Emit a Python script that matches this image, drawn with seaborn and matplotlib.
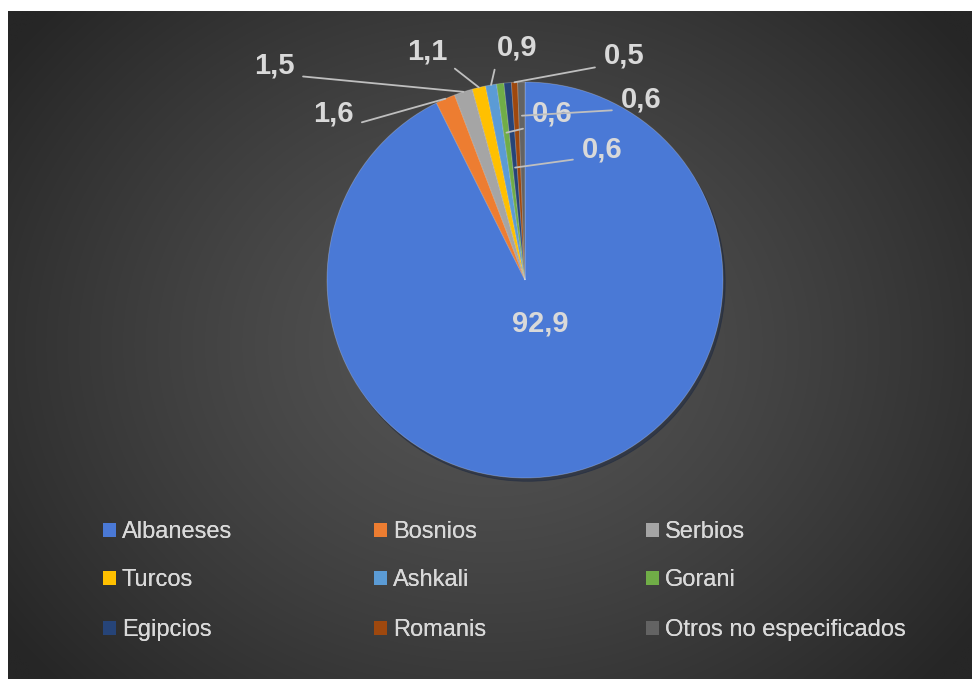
import numpy as np
import matplotlib
matplotlib.use("Agg")
import matplotlib.pyplot as plt
from matplotlib.patches import Patch
import seaborn as sns

# ---------------- data ----------------
categories = ["Albaneses", "Bosnios", "Serbios", "Turcos", "Ashkali", "Gorani",
              "Egipcios", "Romanis", "Otros no especificados"]
values = [92.9, 1.6, 1.5, 1.1, 0.9, 0.6, 0.6, 0.5, 0.6]
value_labels = ["92,9", "1,6", "1,5", "1,1", "0,9", "0,6", "0,6", "0,5", "0,6"]
colors = ["#4A79D6", "#ED7D31", "#A5A5A5", "#FFC000", "#5B9BD5", "#70AD47",
          "#264478", "#9E480E", "#636363"]

sns.set_theme(style="white")
plt.rcParams["font.family"] = ["Liberation Sans", "DejaVu Sans"]

W, H = 977, 688
fig = plt.figure(figsize=(W / 100, H / 100), dpi=100, facecolor="white")

# ---------------- background (radial gradient) ----------------
bx0, by0, bx1, by1 = 8, 11, 972, 679
bg = fig.add_axes([bx0 / W, 1 - by1 / H, (bx1 - bx0) / W, (by1 - by0) / H])
gx, gy = np.meshgrid(np.linspace(0, 1, 400), np.linspace(0, 1, 300))
d = np.sqrt(((gx - 0.5) / 0.62) ** 2 + ((gy - 0.5) / 0.75) ** 2)
d = np.clip(d, 0, 1)
c0, c1 = np.array([0x55, 0x55, 0x55]) / 255, np.array([0x26, 0x26, 0x26]) / 255
img = c0[None, None, :] * (1 - d[..., None] ** 1.3) + c1[None, None, :] * (d[..., None] ** 1.3)
bg.imshow(img, aspect="auto", extent=[0, 1, 0, 1], interpolation="bilinear")
bg.set_axis_off()

# ---------------- pie ----------------
cx, cy, R = 525, 280, 198
ax = fig.add_axes([(cx - R) / W, 1 - (cy + R) / H, 2 * R / W, 2 * R / H])
ax.set_facecolor("none")
wedges, _ = ax.pie(values, colors=colors, startangle=90, counterclock=False,
                   radius=1, wedgeprops=dict(edgecolor=(1, 1, 1, 0.25), linewidth=0.6),
                   shadow=dict(ox=0.008, oy=-0.012, shade=0.7, alpha=0.45))
ax.set_xlim(-1, 1)
ax.set_ylim(-1, 1)
ax.set_axis_off()

def px2d(px, py):
    return ((px - cx) / R, (cy - py) / R)

lab_col = "#D9D9D9"
LFS = 21
ax.text(*px2d(540, 323), value_labels[0], ha="center", va="center",
        color=lab_col, fontsize=LFS, fontweight="bold")

# small labels: label center (px), leader attach radius, attach point on text
label_pos = [None, (333, 113), (274, 65), (427, 52), (517, 47),
             (552, 114), (602, 150), (624, 56), (641, 100)]
leader_r = [None, 1.0, 1.0, 1.0, 1.0, 0.75, 0.57, 1.0, 0.83]
text_rel = [None, (1.0, 0.08), (1.0, 0.12), (1.0, 0.12), (0.0, 0.02),
            (0.0, 0.05), (0.0, 0.2), (0.0, 0.15), (0.0, 0.15)]
for i in range(1, len(values)):
    w = wedges[i]
    th = np.deg2rad((w.theta1 + w.theta2) / 2)
    r = leader_r[i]
    pt = (r * np.cos(th), r * np.sin(th))
    ax.annotate(value_labels[i], xy=pt, xytext=px2d(*label_pos[i]),
                ha="center", va="center", color=lab_col, fontsize=LFS,
                fontweight="bold", annotation_clip=False,
                arrowprops=dict(arrowstyle="-", color="#BFBFBF", lw=1.3,
                                shrinkA=4, shrinkB=0, relpos=text_rel[i]))

# ---------------- legend (3 x 3 grid, row-major order) ----------------
col_x = [103, 374, 646]
row_y = [532, 580, 630]
for k, (name, c) in enumerate(zip(categories, colors)):
    r_, c_ = divmod(k, 3)
    leg = fig.legend([Patch(facecolor=c, edgecolor="none")], [name],
                     loc="center left",
                     bbox_to_anchor=(col_x[c_] / W, 1 - row_y[r_] / H),
                     frameon=False, handlelength=0.55, handleheight=0.55,
                     handletextpad=0.25, borderaxespad=0, borderpad=0,
                     prop=dict(size=17))
    for t in leg.get_texts():
        t.set_color(lab_col)
    fig.add_artist(leg)

fig.savefig("out.png", dpi=100, facecolor="white")
